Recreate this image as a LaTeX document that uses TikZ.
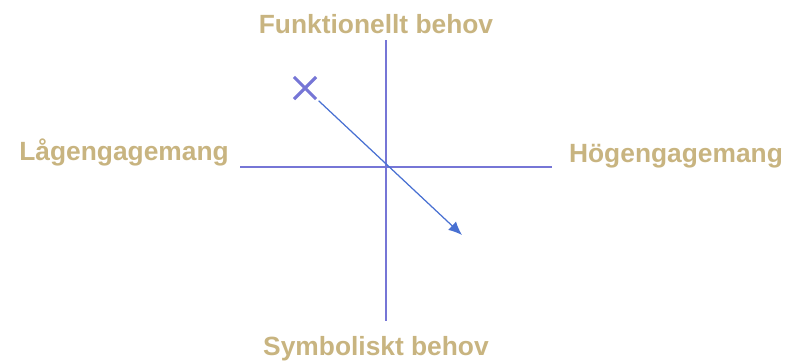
\documentclass[tikz,border=0pt]{standalone}
\usepackage{fontspec}
\setmainfont{Liberation Sans}
\usepackage{xcolor}
\usetikzlibrary{arrows.meta,shapes.misc}
\definecolor{axisblue}{RGB}{118,118,214}
\definecolor{arrowblue}{RGB}{72,112,210}
\definecolor{labeltan}{RGB}{200,180,128}

\begin{document}
\begin{tikzpicture}[
  x=0.02cm, y=-0.02cm,
  axislabel/.style={font=\fontsize{15}{18}\selectfont\bfseries, text=labeltan, inner sep=0pt, anchor=base},
  axisline/.style={draw=axisblue, line width=1.1pt},
  crossmark/.style={cross out, draw=axisblue, line width=1.8pt, minimum size=0.38cm, inner sep=0pt},
  move/.style={-{Latex[length=2.7mm,width=2.3mm]}, draw=arrowblue, line width=0.7pt, shorten <=2pt}
]
\useasboundingbox (0,0) rectangle (791,360);
% axes
\coordinate (top) at (386,40);
\coordinate (bottom) at (386,321);
\coordinate (left) at (240,167);
\coordinate (right) at (552,167);
\draw[axisline] (top) -- (bottom);
\draw[axisline] (left) -- (right);
% labels
\node[axislabel] (funk) at (376,33) {Funktionellt behov};
\node[axislabel] (symb) at (376,355) {Symboliskt behov};
\node[axislabel] (lag) at (124,160) {Lågengagemang};
\node[axislabel] (hog) at (676,162) {Högengagemang};
% position and movement
\node[crossmark] (start) at (305,88) {};
\coordinate (goal) at (462,235);
\draw[move] (start) -- (goal);
\end{tikzpicture}
\end{document}
